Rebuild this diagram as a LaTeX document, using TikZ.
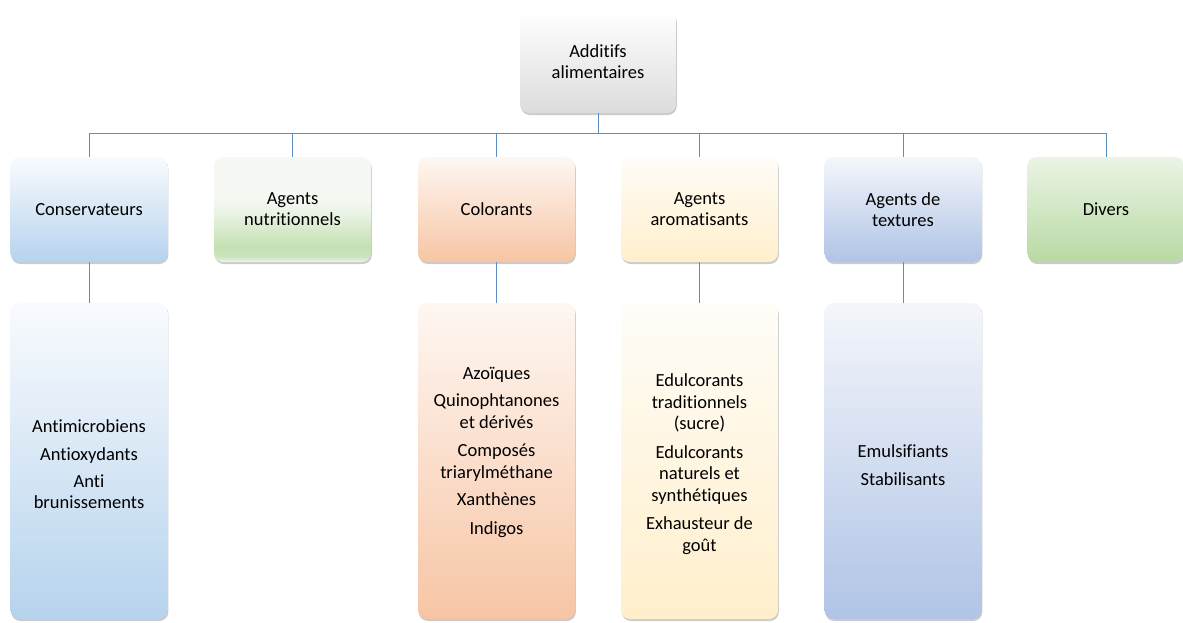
\documentclass[tikz,border=0pt]{standalone}
\usepackage{fontspec}
\setmainfont{Carlito}[Ligatures=NoCommon]
\usetikzlibrary{shadows}
\definecolor{linkblue}{HTML}{5B8DC6}
\pgfdeclareverticalshading{nutrishade}{100bp}{
  color(0bp)=({rgb,255:red,240;green,246;blue,236});
  color(25bp)=({rgb,255:red,240;green,246;blue,236});
  color(27.5bp)=({rgb,255:red,205;green,228;blue,190});
  color(32.5bp)=({rgb,255:red,197;green,224;blue,179});
  color(47.5bp)=({rgb,255:red,232;green,242;blue,226});
  color(55bp)=({rgb,255:red,246;green,248;blue,243});
  color(100bp)=({rgb,255:red,246;green,248;blue,243})}
\tikzset{
  basebox/.style={rounded corners=9pt, align=center, inner sep=2pt,
    font=\fontsize{18.5}{21}\selectfont,
    drop shadow={shadow xshift=0.8pt, shadow yshift=-2pt, opacity=0.45, fill=black!45}},
  rootbox/.style={basebox, minimum width=156pt, minimum height=102pt,
    top color=white, bottom color={rgb,255:red,220;green,220;blue,220}},
  catbox/.style={basebox, minimum width=157pt, minimum height=105pt},
  leafbox/.style={basebox, minimum width=157pt, minimum height=316pt},
  leaftext/.style={align=center, inner sep=0pt, font=\fontsize{18.5}{21.5}\selectfont},
  bluegrad/.style={top color={rgb,255:red,249;green,251;blue,254}, bottom color={rgb,255:red,182;green,211;blue,237}},
  peachgrad/.style={top color={rgb,255:red,254;green,247;blue,242}, bottom color={rgb,255:red,247;green,197;blue,165}},
  yellowgrad/.style={top color={rgb,255:red,255;green,253;blue,248}, bottom color={rgb,255:red,255;green,239;blue,203}},
  steelgrad/.style={top color={rgb,255:red,244;green,246;blue,251}, bottom color={rgb,255:red,176;green,196;blue,230}},
  greengrad/.style={top color={rgb,255:red,235;green,244;blue,229}, bottom color={rgb,255:red,184;green,218;blue,163}},
  nutrigrad/.style={shading=nutrishade},
  conn/.style={draw=linkblue, line width=0.9pt}
}
\begin{document}
\begin{tikzpicture}[x=1pt, y=-1pt]
\useasboundingbox (0,0) rectangle (1183,622);
\node[rootbox] (root) at (598,62) {Additifs\\alimentaires};
\node[catbox, bluegrad]   (c1) at (89,209.5)   {Conservateurs};
\node[catbox, nutrigrad]  (c2) at (292.5,209.5) {Agents\\nutritionnels};
\node[catbox, peachgrad]  (c3) at (496.5,209.5) {Colorants};
\node[catbox, yellowgrad] (c4) at (699.5,209.5) {Agents\\aromatisants};
\node[catbox, steelgrad]  (c5) at (903,209.5)   {Agents de\\textures};
\node[catbox, greengrad]  (c6) at (1106,209.5)  {Divers};
\node[leafbox, bluegrad]   (l1) at (89,461)    {};
\node[leafbox, peachgrad]  (l3) at (496.5,461) {};
\node[leafbox, yellowgrad] (l4) at (699.5,461) {};
\node[leafbox, steelgrad]  (l5) at (903,461)   {};
\node[leaftext, yshift=-3pt] (t1) at (l1.center) {Antimicrobiens\\[7pt]Antioxydants\\[5pt]Anti\\brunissements};
\node[leaftext, yshift=9pt]  (t3) at (l3.center) {Azoïques\\[6pt]Quinophtanones\\et dérivés\\[7pt]Composés\\triarylméthane\\[6pt]Xanthènes\\[7pt]Indigos};
\node[leaftext, yshift=-3pt] (t4) at (l4.center) {Edulcorants\\traditionnels\\(sucre)\\[7pt]Edulcorants\\naturels et\\synthétiques\\[7pt]Exhausteur de\\goût};
\node[leaftext, yshift=-4pt] (t5) at (l5.center) {Emulsifiants\\[7pt]Stabilisants};
\coordinate (bus) at (0,133);
\draw[conn] (root.south) -- (root.south |- bus);
\draw[conn] (c1.north |- bus) -- (c6.north |- bus);
\foreach \c in {c1,c2,c3,c4,c5,c6} \draw[conn] (\c.north) -- (\c.north |- bus);
\draw[conn] (c1.south) -- (l1.north);
\draw[conn] (c3.south) -- (l3.north);
\draw[conn] (c4.south) -- (l4.north);
\draw[conn] (c5.south) -- (l5.north);
\end{tikzpicture}
\end{document}
